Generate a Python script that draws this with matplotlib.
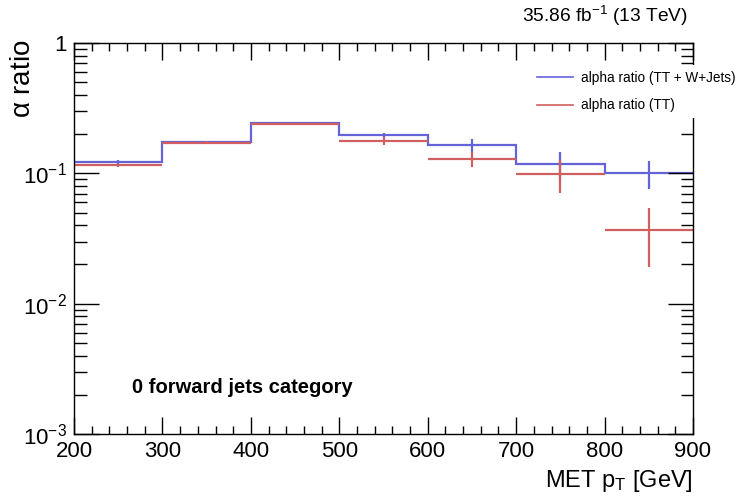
import numpy as np
import matplotlib
matplotlib.use("Agg")
import matplotlib.pyplot as plt
from matplotlib.ticker import FixedLocator, FixedFormatter, MultipleLocator

plt.rcParams['font.family'] = ['Liberation Sans', 'DejaVu Sans']
plt.rcParams['mathtext.fontset'] = 'custom'
plt.rcParams['mathtext.rm'] = 'Liberation Sans'
plt.rcParams['mathtext.it'] = 'Liberation Sans'

edges = [200, 300, 400, 500, 600, 700, 800, 900]
alpha_all = [0.123, 0.174, 0.244, 0.196, 0.164, 0.119, 0.1006]
alpha_all_err = [0.004, 0.004, 0.005, 0.010, 0.020, 0.028, 0.025]
alpha_tt = [0.116, 0.172, 0.241, 0.178, 0.129, 0.099, 0.0367]
alpha_tt_err = [0.003, 0.004, 0.005, 0.012, 0.017, 0.028, 0.0177]

blue = '#6464d8'
red = '#d06060'

centers = [(a + b) / 2 for a, b in zip(edges[:-1], edges[1:])]
half = [(b - a) / 2 for a, b in zip(edges[:-1], edges[1:])]

fig = plt.figure(figsize=(7.47, 4.96), dpi=100)
ax = fig.add_axes([0.0991, 0.125, 0.8286, 0.788])

ax.stairs(alpha_all, edges, color=blue, lw=1.6, baseline=None)
ax.errorbar(centers, alpha_all, yerr=alpha_all_err, fmt='none', ecolor=blue, elinewidth=1.6, capsize=0)
ax.errorbar(centers, alpha_tt, xerr=half, yerr=alpha_tt_err, fmt='none', ecolor=red, elinewidth=1.6, capsize=0)

ax.set_yscale('log')
ax.set_xlim(200, 900)
ax.set_ylim(1e-3, 1)

ax.xaxis.set_major_locator(MultipleLocator(100))
ax.xaxis.set_minor_locator(MultipleLocator(20))
ax.yaxis.set_major_locator(FixedLocator([1e-3, 1e-2, 1e-1, 1]))
ax.yaxis.set_major_formatter(FixedFormatter(['$10^{-3}$', '$10^{-2}$', '$10^{-1}$', '1']))
ax.tick_params(which='both', direction='in', top=True, right=True, labelsize=16, width=1)
ax.tick_params(axis='x', which='major', length=12, pad=5)
ax.tick_params(axis='x', which='minor', length=6)
ax.tick_params(axis='y', which='major', length=18, pad=5)
ax.tick_params(axis='y', which='minor', length=9)
for s in ax.spines.values():
    s.set_linewidth(1)

ax.set_xlabel('MET p$_{\\mathregular{T}}$ [GeV]', fontsize=17, loc='right')
ax.set_ylabel('$\\alpha$ ratio', fontsize=20, loc='top')
ax.yaxis.set_label_coords(-0.062, 1.01)

fig.text(0.921, 0.944, '35.86 fb$^{-1}$ (13 TeV)', ha='right', va='bottom', fontsize=13.8)
ax.text(0.0937, 0.105, '0 forward jets category', transform=ax.transAxes, fontsize=14.5, fontweight='bold')

fig.legend(handles=[plt.Line2D([], [], color=blue, lw=1.2), plt.Line2D([], [], color=red, lw=1.2)],
           labels=['alpha ratio (TT + W+Jets)', 'alpha ratio (TT)'],
           loc='upper left', bbox_to_anchor=(0.703, 0.882), frameon=True, facecolor='white',
           edgecolor='none', framealpha=1, fancybox=False, fontsize=9.8, borderpad=0.4,
           handlelength=2.6, labelspacing=1.0, handletextpad=0.6)

fig.savefig('out.png', dpi=100)
